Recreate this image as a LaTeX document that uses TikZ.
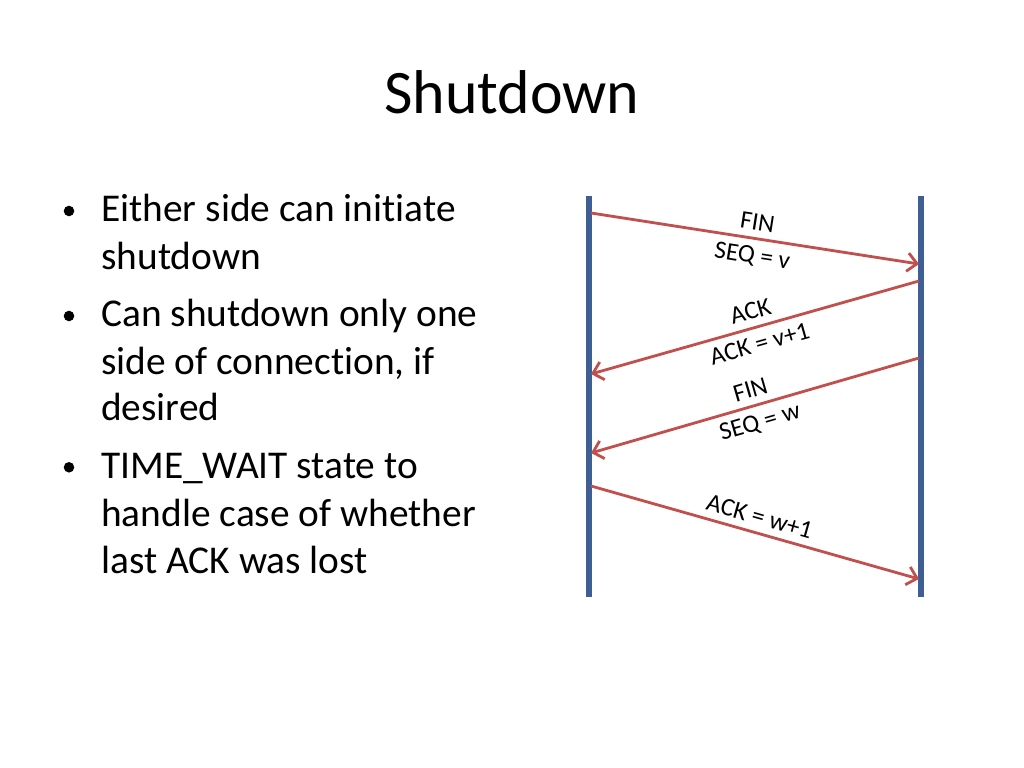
\documentclass[tikz,border=0pt]{standalone}
\usepackage{fontspec}
\setmainfont{Carlito}[Ligatures=NoCommon]
\usetikzlibrary{arrows.meta}

\definecolor{lifeblue}{HTML}{3D5F94}
\definecolor{msgred}{HTML}{C0504D}

\tikzset{
  lifeline/.style={draw=lifeblue, line width=4.6pt},
  msg/.style={draw=msgred, line width=2pt, -{Straight Barb[length=2.4mm, width=4.6mm]}},
  lbl/.style={font=\fontsize{18}{19}\selectfont, inner sep=1pt},
  bullet/.style={anchor=base west, inner sep=0pt,
    font=\fontsize{28}{33.5}\selectfont},
  dot/.style={fill=black, circle, inner sep=0pt, minimum size=7.5pt}
}

\begin{document}
\begin{tikzpicture}[x=0.025cm, y=-0.025cm]
        \useasboundingbox (0,0) rectangle (1024,768);

        \node[anchor=base, font=\fontsize{44}{50}\selectfont, inner sep=0pt] (title) at (512,114) {Shutdown};

        \node[dot] (b1) at (69,211) {};
        \node[bullet] (t1a) at (101,221.7) {Either side can initiate};
        \node[bullet] (t1b) at (101,269) {shutdown};
        \node[dot] (b2) at (69,316) {};
        \node[bullet] (t2a) at (101,326.7) {Can shutdown only one};
        \node[bullet] (t2b) at (101,374) {side of connection, if};
        \node[bullet] (t2c) at (101,420.7) {desired};
        \node[dot] (b3) at (69,467.3) {};
        \node[bullet] (t3a) at (101,478) {TIME\_WAIT state to};
        \node[bullet] (t3b) at (101,526.7) {handle case of whether};
        \node[bullet] (t3c) at (101,573) {last ACK was lost};

        % lifelines
        \coordinate (ltop) at (589,196);
        \coordinate (lbot) at (589,597);
        \coordinate (rtop) at (921,196);
        \coordinate (rbot) at (921,597);
        \draw[lifeline] (ltop) -- (lbot);
        \draw[lifeline] (rtop) -- (rbot);

        % message ends
        \coordinate (s1) at (591,213);
        \coordinate (e1) at (919,264);
        \coordinate (s2) at (919,281);
        \coordinate (e2) at (591,374);
        \coordinate (s3) at (919,358);
        \coordinate (e3) at (591,453);
        \coordinate (s4) at (591,486);
        \coordinate (e4) at (919,579);

        \draw[msg] (s1) to node[lbl, sloped, above=4pt]{FIN} node[lbl, sloped, below=4pt]{SEQ = v} (e1);
        \draw[msg] (s2) to node[lbl, sloped, above=4pt]{ACK} node[lbl, sloped, below=4pt]{ACK = v+1} (e2);
        \draw[msg] (s3) to node[lbl, sloped, above=4pt]{FIN} node[lbl, sloped, below=4pt]{SEQ = w} (e3);
        \draw[msg] (s4) to node[lbl, sloped, above=4pt]{ACK = w+1} (e4);

    \end{tikzpicture}
\end{document}
